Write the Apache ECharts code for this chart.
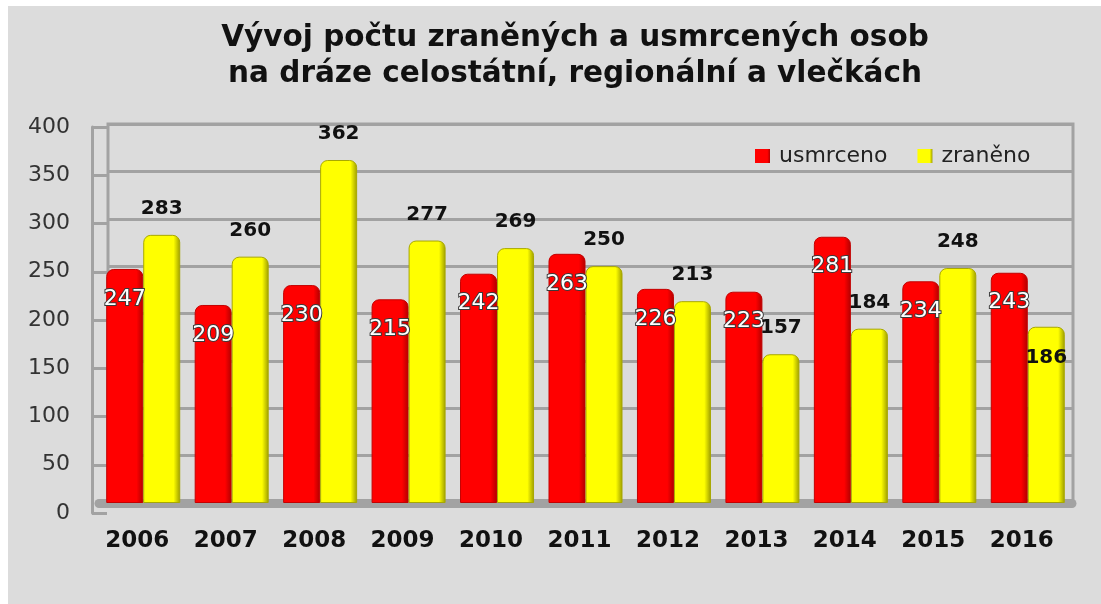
<!DOCTYPE html>
<html>
<head>
<meta charset="utf-8">
<script src="https://cdn.jsdelivr.net/npm/echarts@6/dist/echarts.min.js"></script>
<style>
  html, body { margin: 0; padding: 0; background: #ffffff; }
  #chart { position: absolute; left: 8px; top: 6px; width: 1093px; height: 598px; }
</style>
</head>
<body>
<div id="chart"></div>
<script>
// roky na ose x
var years = ['2006', '2007', '2008', '2009', '2010', '2011', '2012', '2013', '2014', '2015', '2016'];
// usmrcené osoby
var usmrceno = [247, 209, 230, 215, 242, 263, 226, 223, 281, 234, 243];
// zraněné osoby
var zraneno = [283, 260, 362, 277, 269, 250, 213, 157, 184, 248, 186];
var yTicks = [0, 50, 100, 150, 200, 250, 300, 350, 400];

var font = 'DejaVu Sans, sans-serif';
var wallGray = '#a2a2a2';

var chart = echarts.init(document.getElementById('chart'));

var option = {
  backgroundColor: '#dcdcdc',
  animation: false,
  title: {
    text: 'Vývoj počtu zraněných a usmrcených osob\nna dráze celostátní, regionální a vlečkách',
    left: 562,
    top: 9,
    textAlign: 'center',
    textStyle: {
      fontFamily: font,
      fontSize: 29.5,
      fontWeight: 'bold',
      color: '#111',
      lineHeight: 36
    }
  },
  legend: {
    left: 742,
    top: 134,
    itemWidth: 15,
    itemHeight: 14,
    itemGap: 30,
    icon: 'rect',
    itemStyle: { borderWidth: 0 },
    textStyle: { fontFamily: font, fontSize: 22, color: '#222', padding: [0, 0, 0, 4] },
    data: ['usmrceno', 'zraněno']
  },
  grid: [
    // zadní stěna s mřížkou
    { left: 100, right: 28, top: 118, bottom: 101, show: true, borderColor: wallGray, borderWidth: 3, backgroundColor: 'transparent' },
    // sloupce
    { left: 91, right: 29, top: 118, bottom: 101 },
    // přední osa y s popisky
    { left: 84, right: 29, top: 121, bottom: 91 }
  ],
  xAxis: [
    { gridIndex: 0, type: 'category', data: years, show: false },
    {
      gridIndex: 1,
      type: 'category',
      data: years,
      offset: 5,
      axisLine: { show: true, lineStyle: { color: wallGray, width: 9 } },
      axisTick: { show: false },
      axisLabel: {
        margin: 22,
        fontFamily: font,
        fontSize: 23,
        fontWeight: 'bold',
        color: '#111',
        padding: [0, 12, 0, 0]
      }
    },
    { gridIndex: 2, type: 'category', data: years, show: false }
  ],
  yAxis: [
    {
      gridIndex: 0,
      type: 'value',
      min: 0, max: 400, interval: 50,
      axisLabel: { show: false },
      axisLine: { show: false },
      axisTick: { show: false },
      splitLine: { lineStyle: { color: wallGray, width: 3 } }
    },
    {
      gridIndex: 1,
      type: 'value',
      min: yTicks[0], max: yTicks[yTicks.length - 1], interval: 50,
      show: false
    },
    {
      gridIndex: 2,
      type: 'value',
      min: yTicks[0], max: yTicks[yTicks.length - 1], interval: 50,
      axisLine: { show: true, lineStyle: { color: wallGray, width: 3 } },
      axisTick: { show: true, inside: true, length: 15, lineStyle: { color: wallGray, width: 3 } },
      splitLine: { show: false },
      axisLabel: {
        margin: 22,
        fontFamily: font,
        fontSize: 22,
        color: '#333'
      }
    }
  ],
  series: [
    {
      name: 'usmrceno',
      type: 'bar',
      xAxisIndex: 1,
      yAxisIndex: 1,
      barWidth: 37,
      barGap: '0%',
      data: usmrceno,
      itemStyle: {
        color: new echarts.graphic.LinearGradient(0, 0, 1, 0, [
          { offset: 0, color: '#ff0000' },
          { offset: 0.82, color: '#ff0000' },
          { offset: 1, color: '#b00000' }
        ]),
        borderColor: '#c40000',
        borderWidth: 1,
        borderRadius: [7, 7, 0, 0]
      },
      label: {
        show: true,
        position: 'insideTop',
        distance: 19,
        fontFamily: font,
        fontSize: 22,
        color: '#ffffff',
        textBorderColor: '#3a3a3a',
        textBorderWidth: 2
      }
    },
    {
      name: 'zraněno',
      type: 'bar',
      xAxisIndex: 1,
      yAxisIndex: 1,
      barWidth: 37,
      barGap: '0%',
      data: zraneno.map(function (v, i) {
        // poslední popisek je v originále uvnitř sloupce
        if (i === zraneno.length - 1) {
          return { value: v, label: { position: 'insideTop', distance: 21 } };
        }
        return v;
      }),
      itemStyle: {
        color: new echarts.graphic.LinearGradient(0, 0, 1, 0, [
          { offset: 0, color: '#ffff00' },
          { offset: 0.82, color: '#ffff00' },
          { offset: 1, color: '#9c9c00' }
        ]),
        borderColor: '#a8a800',
        borderWidth: 1,
        borderRadius: [7, 7, 0, 0]
      },
      label: {
        show: true,
        position: 'top',
        distance: 16,
        fontFamily: font,
        fontSize: 20,
        fontWeight: 'bold',
        color: '#111'
      }
    }
  ]
};

chart.setOption(option);
</script>
</body>
</html>
